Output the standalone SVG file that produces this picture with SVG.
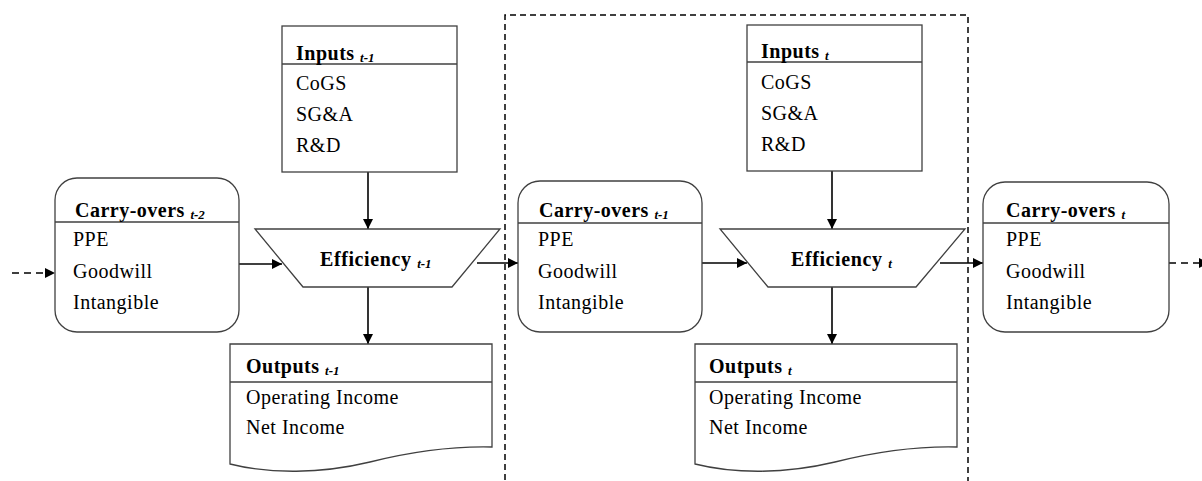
<svg xmlns="http://www.w3.org/2000/svg" width="1202" height="481" viewBox="0 0 1202 481">
  <style>
    .box { fill: #fff; stroke: #404040; stroke-width: 1.3; }
    .sep { stroke: #404040; stroke-width: 1.3; }
    text { font-family: 'Liberation Serif', 'DejaVu Serif', serif; fill: #000; }
    .txt { font-size: 20px; letter-spacing: 0.5px; }
    .ttl { font-size: 20px; font-weight: bold; letter-spacing: 0.5px; }
    .sub { font-size: 13px; font-style: italic; font-weight: bold; letter-spacing: 0; }
    .eff { font-size: 20px; font-weight: bold; letter-spacing: 0.6px; }
    .line { stroke: #000; stroke-width: 1.6; fill: none; marker-end: url(#head); }
    .dash { stroke: #000; stroke-width: 1.6; fill: none; stroke-dasharray: 7 5; }
    .frame { stroke: #000; stroke-width: 1.5; fill: none; stroke-dasharray: 6 4; }
  </style>
  <defs>
    <marker id="head" viewBox="0 0 10 10" refX="10" refY="5" markerWidth="10" markerHeight="10" markerUnits="userSpaceOnUse" orient="auto">
      <path d="M0,0 L10,5 L0,10 Z" fill="#000"/>
    </marker>
  </defs>

  <!-- period t frame -->
  <path class="frame" d="M505,490 V15 H968 V490"/>

  <!-- connectors -->
  <g id="connectors">
    <path class="dash" d="M12,273 H47"/>
    <path d="M45,268 L55,273 L45,278 Z" fill="#000"/>
    <path class="line" d="M239,264 H282"/>
    <path class="line" d="M368,172 V229"/>
    <path class="line" d="M368,287 V344"/>
    <path class="line" d="M477,263 H518"/>
    <path class="line" d="M702,263 H747"/>
    <path class="line" d="M832,171 V229"/>
    <path class="line" d="M832,287 V344"/>
    <path class="line" d="M940,263 H983"/>
    <path class="dash" d="M1169,263 H1202"/>
    <path d="M1199,258 L1209,263 L1199,268 Z" fill="#000"/>
  </g>

  <!-- carry-overs t-2 -->
  <g id="carry-t2">
    <rect class="box" x="55" y="178" width="184" height="154" rx="22"/>
    <line class="sep" x1="55" y1="222" x2="239" y2="222"/>
    <text class="ttl" x="75" y="217">Carry-overs <tspan class="sub" dy="2">t-2</tspan></text>
    <text class="txt" x="73" y="246">PPE</text>
    <text class="txt" x="73" y="278">Goodwill</text>
    <text class="txt" x="73" y="309">Intangible</text>
  </g>

  <!-- inputs t-1 -->
  <g id="inputs-t1">
    <rect class="box" x="282" y="26" width="175" height="146"/>
    <line class="sep" x1="282" y1="64" x2="457" y2="64"/>
    <text class="ttl" x="296" y="60">Inputs <tspan class="sub" dy="2">t-1</tspan></text>
    <text class="txt" x="296" y="90">CoGS</text>
    <text class="txt" x="296" y="121">SG&amp;A</text>
    <text class="txt" x="296" y="152">R&amp;D</text>
  </g>

  <!-- efficiency t-1 -->
  <g id="efficiency-t1">
    <path class="box" d="M255,229 H500 L452,287 H303 Z"/>
    <text class="eff" x="320" y="266">Efficiency <tspan class="sub" dy="2">t-1</tspan></text>
  </g>

  <!-- outputs t-1 -->
  <g id="outputs-t1">
    <path class="box" d="M230,344 H492 V447 C450,446 410,452 370,462 C320,474 270,474 230,464 Z"/>
    <line class="sep" x1="230" y1="382" x2="492" y2="382"/>
    <text class="ttl" x="246" y="373">Outputs <tspan class="sub" dy="2">t-1</tspan></text>
    <text class="txt" x="246" y="404">Operating Income</text>
    <text class="txt" x="246" y="434">Net Income</text>
  </g>

  <!-- carry-overs t-1 -->
  <g id="carry-t1">
    <rect class="box" x="518" y="181" width="184" height="151" rx="22"/>
    <line class="sep" x1="518" y1="223" x2="702" y2="223"/>
    <text class="ttl" x="539" y="217">Carry-overs <tspan class="sub" dy="2">t-1</tspan></text>
    <text class="txt" x="538" y="246">PPE</text>
    <text class="txt" x="538" y="278">Goodwill</text>
    <text class="txt" x="538" y="309">Intangible</text>
  </g>

  <!-- inputs t -->
  <g id="inputs-t">
    <rect class="box" x="747" y="25" width="175" height="146"/>
    <line class="sep" x1="747" y1="62" x2="922" y2="62"/>
    <text class="ttl" x="761" y="58">Inputs <tspan class="sub" dy="2">t</tspan></text>
    <text class="txt" x="761" y="89">CoGS</text>
    <text class="txt" x="761" y="120">SG&amp;A</text>
    <text class="txt" x="761" y="151">R&amp;D</text>
  </g>

  <!-- efficiency t -->
  <g id="efficiency-t">
    <path class="box" d="M720,229 H965 L916,287 H768 Z"/>
    <text class="eff" x="791" y="266">Efficiency <tspan class="sub" dy="2">t</tspan></text>
  </g>

  <!-- outputs t -->
  <g id="outputs-t">
    <path class="box" d="M695,344 H957 V447 C915,446 875,452 835,462 C785,474 735,474 695,464 Z"/>
    <line class="sep" x1="695" y1="382" x2="957" y2="382"/>
    <text class="ttl" x="709" y="373">Outputs <tspan class="sub" dy="2">t</tspan></text>
    <text class="txt" x="709" y="404">Operating Income</text>
    <text class="txt" x="709" y="434">Net Income</text>
  </g>

  <!-- carry-overs t -->
  <g id="carry-t">
    <rect class="box" x="983" y="182" width="186" height="150" rx="22"/>
    <line class="sep" x1="983" y1="223" x2="1169" y2="223"/>
    <text class="ttl" x="1006" y="217">Carry-overs <tspan class="sub" dy="2">t</tspan></text>
    <text class="txt" x="1006" y="246">PPE</text>
    <text class="txt" x="1006" y="278">Goodwill</text>
    <text class="txt" x="1006" y="309">Intangible</text>
  </g>
</svg>
